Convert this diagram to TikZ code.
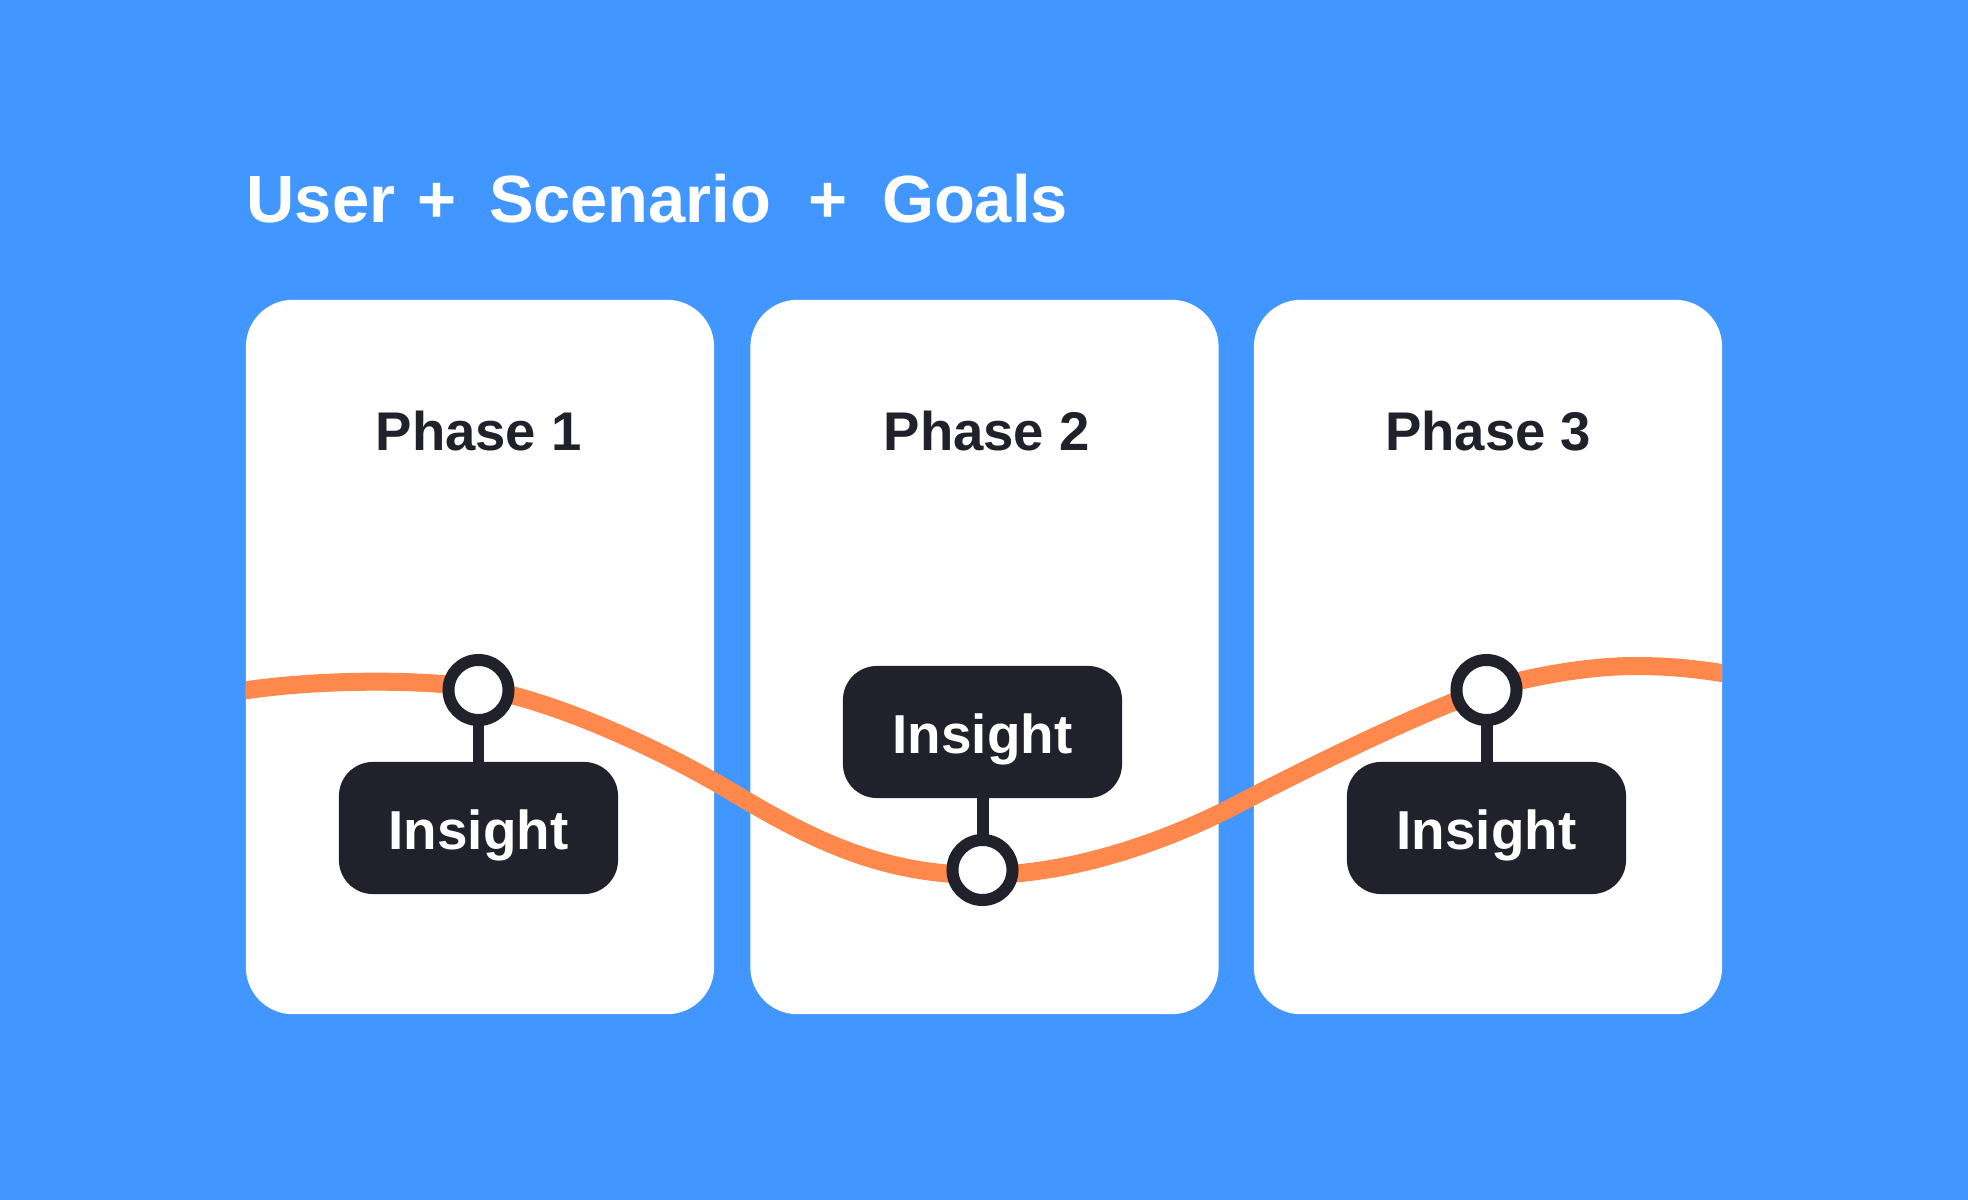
\documentclass[tikz,border=0pt]{standalone}
\usepackage{fontspec}
\setmainfont{Liberation Sans}
\definecolor{skyback}{HTML}{4196FF}
\definecolor{inkdark}{HTML}{20212A}
\definecolor{curveorange}{HTML}{FF884D}
\tikzset{
  cardbox/.style={fill=white, rounded corners=.47cm, minimum width=4.68cm, minimum height=7.14cm, inner sep=0pt},
  phaselabel/.style={font=\fontsize{15.5}{19}\selectfont\bfseries, text=inkdark, anchor=base west, inner sep=0pt},
  insightbox/.style={fill=inkdark, text=white, font=\fontsize{15.6}{19}\selectfont\bfseries, rounded corners=.34cm,
    minimum width=2.79cm, minimum height=1.32cm, inner sep=0pt, outer sep=0pt, text height=11.95pt, text depth=0pt},
  dotnode/.style={circle, draw=inkdark, fill=white, line width=3.41pt, minimum size=.6cm, inner sep=0pt, outer sep=0pt},
  stemline/.style={draw=inkdark, line width=3.41pt},
}
\begin{document}
\begin{tikzpicture}[x=.01cm, y=-.01cm]

  \fill[skyback] (0,0) rectangle (1968,1200);
  \useasboundingbox (0,0) rectangle (1968,1200);

  \node[anchor=base west, inner sep=0pt, text=white, font=\fontsize{19}{23}\selectfont\bfseries] (title) at (246,222)
    {User\hspace{6.3pt}+\hspace{9.3pt}Scenario\hspace{10.7pt}+\hspace{9.7pt}Goals};

  \foreach \i/\x/\lx in {1/480/375, 2/984.5/883, 3/1488/1384.5}{
    \node[cardbox] (card\i) at (\x,657) {};
    \node[phaselabel] (phase\i) at (\lx,450) {Phase \i};
  }

  \begin{scope}
    \clip (246,600) rectangle (1722,900);
    \draw[curveorange, line width=5.12pt] (230,693) .. controls (300,680) and (413,678) .. (478,688)
      .. controls (545,698) and (650,743) .. (732,792)
      .. controls (815,842) and (885,875) .. (982,875)
      .. controls (1070,875) and (1165,842) .. (1236,805)
      .. controls (1307,768) and (1425,710) .. (1486,690)
      .. controls (1530,676) and (1590,666) .. (1635,666)
      .. controls (1670,666) and (1700,669) .. (1740,676);
  \end{scope}

  \foreach \i/\dx/\dy/\by in {1/478.5/690/828, 2/982.5/870/732, 3/1486.5/690/828}{
    \node[dotnode] (dot\i) at (\dx,\dy) {};
    \node[insightbox] (insight\i) at (\dx,\by) {Insight};
  }

  \draw[stemline] (dot1) -- (insight1);
  \draw[stemline] (dot2) -- (insight2);
  \draw[stemline] (dot3) -- (insight3);

\end{tikzpicture}
\end{document}
